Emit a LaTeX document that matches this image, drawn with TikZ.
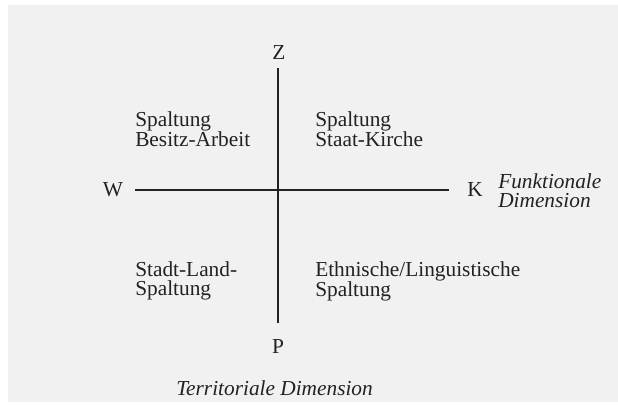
\documentclass[tikz,border=0pt]{standalone}
\usepackage{fontspec}
\setmainfont{Liberation Serif}
\definecolor{paper}{HTML}{F1F1F1}
\definecolor{ink}{HTML}{222222}
\begin{document}
\begin{tikzpicture}[x=0.75pt,y=-0.75pt,
  lbl/.style={inner sep=0pt,anchor=north west,align=left,text=ink,font=\fontsize{16}{14.25}\selectfont},
  pole/.style={inner sep=0pt,anchor=base,text=ink,font=\fontsize{16}{18}\selectfont},
  dimlbl/.style={inner sep=0pt,anchor=north west,align=left,text=ink,font=\fontsize{16}{14.25}\selectfont\itshape},
  axis/.style={draw=ink,line width=1.3pt}]
\useasboundingbox (0,0) rectangle (618,406);
\fill[white] (0,0) rectangle (618,406);
\fill[paper] (8,5) rectangle (618,402);
% poles
\node[pole] (Z) at (279,60) {Z};
\node[pole] (P) at (278,353) {P};
\node[pole] (W) at (113,197) {W};
\node[pole] (K) at (475,197) {K};
% axis end points
\coordinate (vtop) at (278,68);
\coordinate (vbot) at (278,323);
\coordinate (hl) at (135,190);
\coordinate (hr) at (449,190);
\draw[axis] (vtop) -- (vbot);
\draw[axis] (hl) -- (hr);
% quadrant labels (top edge = baseline of first line minus ascender)
\node[lbl] (q1) at (135,111) {Spaltung\\Besitz-Arbeit};
\node[lbl] (q2) at (315,111) {Spaltung\\Staat-Kirche};
\node[lbl] (q3) at (135,261) {Stadt-Land-\\Spaltung};
\node[lbl] (q4) at (315,261) {Ethnische/Linguistische\\Spaltung};
% dimension labels
\node[dimlbl] (fd) at (498,173) {Funktionale\\Dimension};
\node[inner sep=0pt,anchor=base west,text=ink,font=\fontsize{16}{18}\selectfont\itshape] (td) at (176,395) {Territoriale Dimension};
\end{tikzpicture}
\end{document}
